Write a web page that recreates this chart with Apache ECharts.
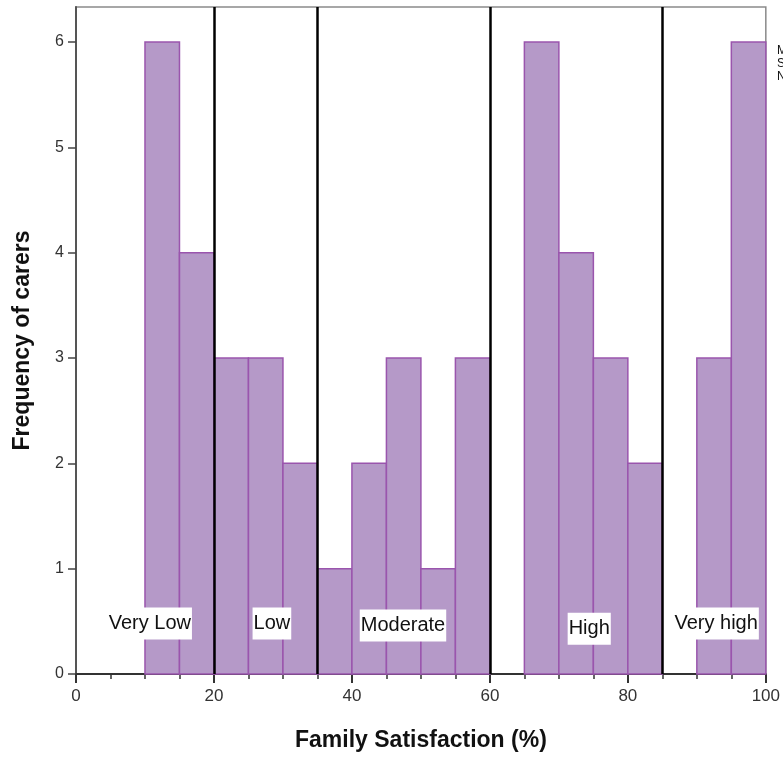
<!DOCTYPE html>
<html><head><meta charset="utf-8">
<script src="https://cdn.jsdelivr.net/npm/echarts@6/dist/echarts.min.js"></script>
<style>html,body{margin:0;padding:0;background:#fff}#c{width:783px;height:758px}</style>
</head><body><div id="c"></div>
<script>
// Histogram bins (lower edge, upper edge) and frequencies
const binStarts = [10,15,20,25,30,35,40,45,50,55,60,65,70,75,80,85,90,95];
const binWidth = 5;
const counts =    [6, 4, 3, 3, 2, 1, 2, 3, 1, 3, 0, 6, 4, 3, 2, 0, 3, 6];
// Category cut-off lines
const cutoffs = [20, 35, 60, 85];
// Category labels and their anchor positions
const catLabels = ['Very Low','Low','Moderate','High','Very high'];
const catX = [10.7, 28.4, 47.4, 74.4, 92.8];
const catY = [0.48, 0.48, 0.46, 0.43, 0.48];
const xTicks = [0,20,40,60,80,100];
const yTicks = [0,1,2,3,4,5,6];

const FONT = '"Liberation Sans", Arial, sans-serif';
const chart = echarts.init(document.getElementById('c'), null, {renderer:'canvas'});
const histData = binStarts.map((s,i)=>[s, s+binWidth, counts[i]]);
const labelData = catLabels.map((n,i)=>({value:[catX[i], catY[i]], name:n}));

chart.setOption({
  animation:false,
  backgroundColor:'#fff',
  grid:{left:76, right:17, top:7, bottom:84, show:true, borderColor:'#8a8a8a', borderWidth:1.5},
  xAxis:{type:'value', min:0, max:100, interval:20,
    name:'Family Satisfaction (%)', nameLocation:'middle', nameGap:55,
    nameTextStyle:{fontFamily:FONT, fontSize:23, fontWeight:'bold', color:'#111'},
    axisLine:{show:true, onZero:false, lineStyle:{color:'#333', width:2}},
    axisTick:{show:true, length:9, lineStyle:{color:'#333', width:2}},
    minorTick:{show:true, splitNumber:4, length:5, lineStyle:{color:'#333', width:1.5}},
    axisLabel:{fontFamily:FONT, fontSize:17, color:'#333', margin:14},
    splitLine:{show:false}},
  yAxis:{type:'value', min:0, max:6.333, interval:1,
    name:'Frequency of carers', nameLocation:'middle', nameGap:42,
    nameTextStyle:{fontFamily:FONT, fontSize:23, fontWeight:'bold', color:'#111'},
    axisLine:{show:true, lineStyle:{color:'#555', width:2}},
    axisTick:{show:true, length:8, lineStyle:{color:'#444', width:1.5},
      customValues: yTicks},
    axisLabel:{fontFamily:FONT, fontSize:16, color:'#333', margin:12,
      customValues: yTicks},
    splitLine:{show:false}},
  series:[
    {type:'custom', coordinateSystem:'cartesian2d', data:histData, z:2,
     encode:{x:[0,1], y:2},
     renderItem:function(params, api){
       const p0 = api.coord([api.value(0), api.value(2)]);
       const p1 = api.coord([api.value(1), 0]);
       if (api.value(2) <= 0) return null;
       return {type:'rect', shape:{x:p0[0], y:p0[1], width:p1[0]-p0[0], height:p1[1]-p0[1]},
         style:{fill:'#b599c8', stroke:'#9a55ad', lineWidth:1.5}};
     },
     markLine:{silent:true, symbol:'none', label:{show:false},
       lineStyle:{color:'#000', width:2.5, type:'solid'},
       data: cutoffs.map(v=>({xAxis:v}))}
    },
    {type:'scatter', data:labelData, symbolSize:1, z:5,
     itemStyle:{opacity:1, color:'rgba(0,0,0,0)'},
     label:{show:true, position:'inside', formatter:'{b}', fontFamily:FONT, fontSize:20, color:'#111',
       backgroundColor:'#fff', padding:[6,1,6,1]}}
  ],
  graphic:[{type:'text', left:777, top:44, z:10,
    style:{text:'Mean =\nStd. Dev. =\nN =', font:'12px '+FONT, fill:'#111', lineHeight:13}}]
});
</script></body></html>
